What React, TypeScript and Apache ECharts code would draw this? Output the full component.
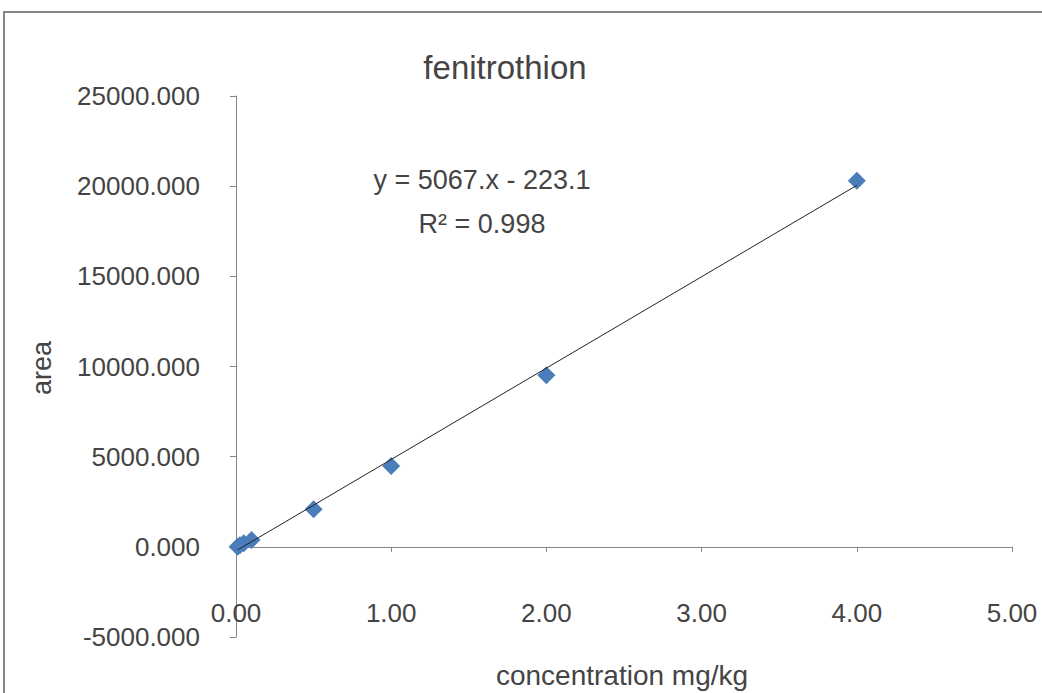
import React, { useEffect, useRef } from "react";
import * as echarts from "echarts";

// Calibration standards: concentration (mg/kg) vs. peak area
const concentration = [0.01, 0.025, 0.05, 0.1, 0.5, 1, 2, 4];
const area = [10, 90, 200, 380, 2090, 4480, 9510, 20300];

// Linear trendline as reported on the chart
const slope = 5067;
const intercept = -223.1;
const rSquared = 0.998;

const titleText = "fenitrothion";
const xTitle = "concentration mg/kg";
const yTitle = "area";

const FONT = "'Liberation Sans', Arial, sans-serif";
const TEXT_COLOR = "#444444";
const AXIS_COLOR = "#868686";

export default function App() {
  const ref = useRef<HTMLDivElement>(null);

  useEffect(() => {
    if (!ref.current) return;
    const chart = echarts.init(ref.current, undefined, { renderer: "svg" });

    const xMin = Math.min(...concentration);
    const xMax = Math.max(...concentration);
    const trend = [
      [xMin, slope * xMin + intercept],
      [xMax, slope * xMax + intercept],
    ];
    const points = concentration.map((c, i) => [c, area[i]]);

    const labelStyle = {
      color: TEXT_COLOR,
      fontSize: 26,
      fontFamily: FONT,
    };

    chart.setOption({
      animation: false,
      backgroundColor: "#ffffff",
      textStyle: { fontFamily: FONT },
      grid: {
        left: 236,
        right: 30,
        top: 96,
        bottom: 56,
        containLabel: false,
        outerBoundsMode: "none",
      },
      xAxis: [
        {
          // axis line crossing at area = 0, with downward ticks
          type: "value",
          min: 0,
          max: 5,
          interval: 1,
          axisLine: { onZero: true, lineStyle: { color: AXIS_COLOR, width: 1 } },
          axisTick: { show: true, inside: false, length: 5, lineStyle: { color: AXIS_COLOR } },
          axisLabel: { show: false },
          splitLine: { show: false },
        },
        {
          // tick labels sitting near the bottom of the plot
          type: "value",
          position: "bottom",
          min: 0,
          max: 5,
          interval: 1,
          offset: -41,
          axisLine: { show: false, onZero: false },
          axisTick: { show: false },
          axisLabel: {
            ...labelStyle,
            margin: 4,
            formatter: (v: number) => v.toFixed(2),
          },
          splitLine: { show: false },
        },
      ],
      yAxis: {
        type: "value",
        min: -5000,
        max: 25000,
        interval: 5000,
        axisLine: { show: true, onZero: false, lineStyle: { color: AXIS_COLOR, width: 1 } },
        axisTick: { show: true, inside: false, length: 6, lineStyle: { color: AXIS_COLOR } },
        axisLabel: {
          ...labelStyle,
          margin: 36,
          formatter: (v: number) => v.toFixed(3),
        },
        splitLine: { show: false },
      },
      series: [
        {
          type: "line",
          data: trend,
          showSymbol: false,
          symbol: "none",
          lineStyle: { color: "#222222", width: 1 },
          silent: true,
          z: 3,
        },
        {
          type: "scatter",
          data: points,
          symbol: "diamond",
          symbolSize: 18,
          itemStyle: { color: "#4A7EBB", opacity: 1 },
          z: 2,
        },
      ],
      graphic: [
        {
          type: "rect",
          shape: { x: 4, y: 12, width: 1200, height: 900 },
          style: { fill: "none", stroke: AXIS_COLOR, lineWidth: 2 },
          silent: true,
        },
        {
          type: "text",
          x: 505,
          y: 67,
          style: {
            text: titleText,
            fontSize: 33,
            fontFamily: FONT,
            fill: TEXT_COLOR,
            align: "center",
            verticalAlign: "middle",
          },
        },
        {
          type: "text",
          x: 482,
          y: 180,
          style: {
            text: `y = ${slope}.x - ${Math.abs(intercept)}`,
            fontSize: 27,
            fontFamily: FONT,
            fill: TEXT_COLOR,
            align: "center",
            verticalAlign: "middle",
          },
        },
        {
          type: "text",
          x: 482,
          y: 224,
          style: {
            text: `R² = ${rSquared}`,
            fontSize: 27,
            fontFamily: FONT,
            fill: TEXT_COLOR,
            align: "center",
            verticalAlign: "middle",
          },
        },
        {
          type: "text",
          x: 622,
          y: 675,
          style: {
            text: xTitle,
            fontSize: 28,
            fontFamily: FONT,
            fill: TEXT_COLOR,
            align: "center",
            verticalAlign: "middle",
          },
        },
        {
          type: "text",
          x: 42,
          y: 368,
          rotation: Math.PI / 2,
          style: {
            text: yTitle,
            fontSize: 27,
            fontFamily: FONT,
            fill: TEXT_COLOR,
            align: "center",
            verticalAlign: "middle",
          },
        },
      ],
    });

    return () => chart.dispose();
  }, []);

  return (
    <div
      ref={ref}
      style={{ position: "fixed", left: 0, top: 0, width: 1042, height: 693 }}
    />
  );
}
